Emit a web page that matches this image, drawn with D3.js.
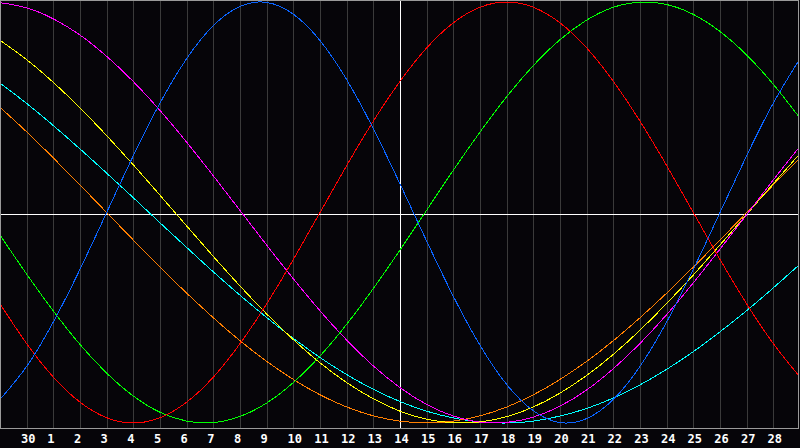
<!DOCTYPE html>
<html>
<head>
<meta charset="utf-8">
<script src="https://cdn.jsdelivr.net/npm/d3@7"></script>
<style>
html,body{margin:0;padding:0;background:#060509;}
svg{display:block;}
</style>
</head>
<body>
<svg id="chart" width="800" height="448"></svg>
<script>
// Day labels at the gridlines (gridline 1..29)
const dayLabels = ["30","1","2","3","4","5","6","7","8","9","10","11","12","13","14","15","16","17","18","19","20","21","22","23","24","25","26","27","28"];
// Day index along the chart (0..30)
const days = [0,1,2,3,4,5,6,7,8,9,10,11,12,13,14,15,16,17,18,19,20,21,22,23,24,25,26,27,28,29,30];

// Cycle values (-1..1) read at each day
const physical = [-0.888,-0.731,-0.520,-0.270,0,0.270,0.520,0.731,0.888,0.979,0.998,0.942,0.817,0.631,0.398,0.136,-0.136,-0.398,-0.631,-0.817,-0.942,-0.998,-0.979,-0.888,-0.731,-0.520,-0.270,0,0.270,0.520,0.731];
const emotional = [-0.434,-0.623,-0.782,-0.901,-0.975,-1.000,-0.975,-0.901,-0.782,-0.623,-0.434,-0.223,0,0.223,0.434,0.623,0.782,0.901,0.975,1.000,0.975,0.901,0.782,0.623,0.434,0.223,0,-0.223,-0.434,-0.623,-0.782];
const intellectual = [-0.107,-0.293,-0.468,-0.627,-0.763,-0.872,-0.949,-0.991,-0.998,-0.969,-0.905,-0.808,-0.682,-0.531,-0.361,-0.178,0.011,0.201,0.382,0.550,0.698,0.821,0.914,0.975,0.999,0.988,0.941,0.860,0.748,0.609,0.448];
const intuitive = [0.997,0.972,0.920,0.843,0.742,0.622,0.485,0.334,0.174,0.010,-0.155,-0.315,-0.467,-0.606,-0.729,-0.832,-0.912,-0.967,-0.996,-0.997,-0.972,-0.920,-0.843,-0.742,-0.622,-0.485,-0.334,-0.174,-0.010,0.155,0.315];
const aesthetic = [0.818,0.726,0.618,0.497,0.365,0.226,0.082,-0.064,-0.209,-0.349,-0.482,-0.604,-0.714,-0.808,-0.885,-0.944,-0.982,-0.999,-0.995,-0.970,-0.924,-0.858,-0.774,-0.674,-0.559,-0.432,-0.297,-0.154,-0.009,0.137,0.280];
const awareness = [0.500,0.383,0.259,0.131,0,-0.131,-0.259,-0.383,-0.500,-0.609,-0.707,-0.793,-0.866,-0.924,-0.966,-0.991,-1.000,-0.991,-0.966,-0.924,-0.866,-0.793,-0.707,-0.609,-0.500,-0.383,-0.259,-0.131,0,0.131,0.259];
const spiritual = [0.615,0.518,0.413,0.302,0.187,0.070,-0.049,-0.166,-0.282,-0.393,-0.499,-0.598,-0.689,-0.770,-0.840,-0.898,-0.944,-0.976,-0.995,-1.000,-0.991,-0.967,-0.931,-0.881,-0.819,-0.745,-0.661,-0.567,-0.466,-0.358,-0.245];

const seriesList = [
  {name:"spiritual", values:spiritual, color:"#00ffff"},
  {name:"awareness", values:awareness, color:"#ff7f00"},
  {name:"aesthetic", values:aesthetic, color:"#ffff00"},
  {name:"intuitive", values:intuitive, color:"#ff00ff"},
  {name:"intellectual", values:intellectual, color:"#00ff00"},
  {name:"emotional", values:emotional, color:"#ff0000"},
  {name:"physical", values:physical, color:"#0a64ff"}
];

const W = 800, plotH = 428;
const svg = d3.select("#chart");
const x = d3.scaleLinear().domain([0,30]).range([0,800]);
const y = d3.scaleLinear().domain([-1,1]).range([423,2]);

svg.append("rect").attr("width",800).attr("height",448).attr("fill","#060509");

// Gridlines
const grid = svg.append("g").attr("transform",`translate(0,${plotH})`)
  .call(d3.axisBottom(x).tickValues(d3.range(1,30)).tickSize(-plotH).tickFormat(""));
grid.select(".domain").remove();
grid.selectAll("line").attr("stroke","#3a3a3a").attr("shape-rendering","crispEdges");

// Border
const border = svg.append("g").attr("stroke","#9a9a9a").attr("shape-rendering","crispEdges");
border.append("line").attr("x1",0.5).attr("x2",0.5).attr("y1",0).attr("y2",plotH+0.5);
border.append("line").attr("x1",0).attr("x2",799).attr("y1",0.5).attr("y2",0.5);
border.append("line").attr("x1",798.5).attr("x2",798.5).attr("y1",0).attr("y2",plotH+0.5);
border.append("line").attr("x1",0).attr("x2",799).attr("y1",plotH+0.5).attr("y2",plotH+0.5);

// Crosshair
svg.append("line").attr("x1",x(15)).attr("x2",x(15)).attr("y1",1).attr("y2",plotH)
  .attr("stroke","#ffffff").attr("shape-rendering","crispEdges");
svg.append("line").attr("x1",1).attr("x2",798).attr("y1",214.5).attr("y2",214.5)
  .attr("stroke","#ffffff").attr("shape-rendering","crispEdges");

// Curves
const line = d3.line().x((d,i)=>x(days[i])).y(d=>y(d)).curve(d3.curveNatural);
const clip = svg.append("clipPath").attr("id","clip").append("rect")
  .attr("x",1).attr("y",1).attr("width",797).attr("height",plotH-1);
svg.append("g").attr("clip-path","url(#clip)")
  .selectAll("path").data(seriesList).join("path")
  .attr("d",d=>line(d.values))
  .attr("fill","none").attr("stroke",d=>d.color).attr("stroke-width",1)
  .attr("shape-rendering","crispEdges");

// Day labels
const ax = svg.append("g").attr("transform",`translate(0,${plotH})`)
  .call(d3.axisBottom(x).tickValues(d3.range(1,30)).tickSize(0).tickPadding(0)
    .tickFormat(i=>dayLabels[i-1]));
ax.select(".domain").remove();
ax.selectAll("text")
  .attr("y",15).attr("dy",0)
  .attr("dx",function(){return this.textContent.length===1 ? -3 : 1;})
  .attr("fill","#ffffff")
  .attr("font-family","'DejaVu Sans Mono', monospace")
  .attr("font-weight","bold")
  .attr("font-size","12px");
</script>
</body>
</html>
